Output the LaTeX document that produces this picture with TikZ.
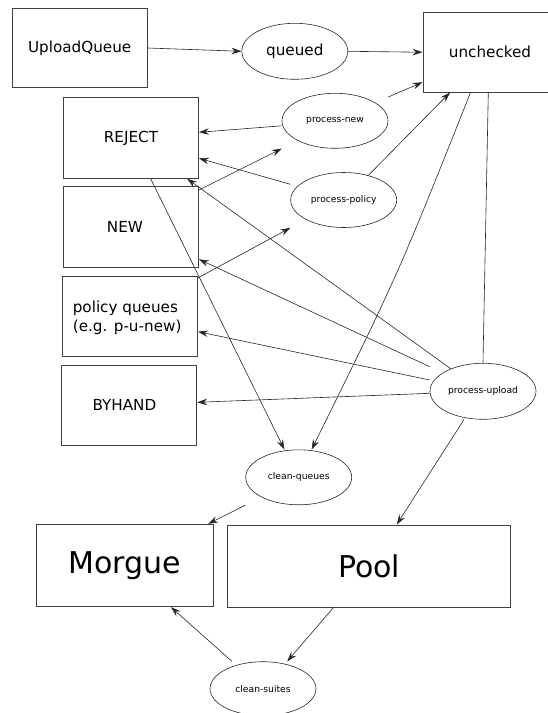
\documentclass[tikz,border=0pt]{standalone}
\usepackage{fontspec}
\setmainfont{DejaVu Sans}
\usetikzlibrary{shapes.geometric,arrows.meta}

\begin{document}
\begin{tikzpicture}[x=1pt,y=-1pt,
  box/.style={draw=black!75, line width=0.9pt, rectangle, inner sep=0pt},
  oval/.style={draw=black!85, line width=0.6pt, ellipse, inner sep=0pt,
    minimum width=106pt, minimum height=55pt, font=\fontsize{9.2}{11}\selectfont},
  midtext/.style={font=\fontsize{15.2}{19}\selectfont},
  largetext/.style={font=\fontsize{30}{36}\selectfont},
  flow/.style={draw=black!85, line width=0.6pt,
    -{Stealth[length=10pt,width=6.5pt,inset=3.5pt]}},
  link/.style={draw=black!85, line width=0.6pt}]

\path[use as bounding box] (0,0) rectangle (547,713);

% queue boxes
\node[box, midtext, minimum width=135pt, minimum height=79.4pt] (upq) at (79.7,48) {UploadQueue};
\node[box, midtext, minimum width=134pt, minimum height=79.7pt] (unchecked) at (490,52.2) {unchecked};
\node[box, midtext, minimum width=135pt, minimum height=80.6pt] (reject) at (131,138) {REJECT};
\node[box, minimum width=135pt, minimum height=81pt] (new) at (131,227.2) {};
\node[midtext] (newtext) at (125,227.2) {NEW};
\node[box, minimum width=134.7pt, minimum height=80pt] (polq) at (130.2,316.7) {};
\node[midtext, align=left, anchor=west] (polqtext) at (69.3,318.3) {policy queues\\(e.g. p-u-new)};
\node[box, minimum width=135pt, minimum height=80.7pt] (byhand) at (129.3,405.3) {};
\node[midtext] (byhandtext) at (124.4,405.3) {BYHAND};
\node[box, largetext, minimum width=177pt, minimum height=82.4pt] (morgue) at (124.8,565.5) {Morgue};
\node[box, largetext, minimum width=283.3pt, minimum height=82.3pt] (pool) at (369.2,566.2) {Pool};

% processes
\node[oval, midtext, minimum height=56pt] (queued) at (294.8,51.3) {queued};
\node[oval] (pnew) at (335,120.8) {process-new};
\node[oval] (ppol) at (343.7,200) {process-policy};
\node[oval, minimum height=56pt] (pup) at (483,391.3) {process-upload};
\node[oval] (cq) at (298.7,477.3) {clean-queues};
\node[oval, minimum height=54pt] (cs) at (263,688.7) {clean-suites};

% top row
\draw[flow] (upq.east) -- (queued.west);
\draw[flow] (queued.east) -- (unchecked.west);

% process-new
\draw[flow] ([yshift=23.8pt]pnew.east) -- ([yshift=10.3pt]unchecked.south west);
\draw[flow] ([yshift=-5pt]pnew.west) -- ([yshift=5.7pt]reject.east);
\draw[flow] ([yshift=-3.8pt]new.north east) -- (pnew.west |- pnew.south);

% process-policy
\draw[flow] ([yshift=15.7pt]ppol.west) -- ([yshift=-20.3pt]reject.east);
\draw[flow] (ppol.45) -- ([xshift=-40pt]unchecked.south);
\draw[flow] ([yshift=-1.6pt]polq.north east) -- (ppol.west |- ppol.south);

% process-upload
\draw[link] ([xshift=-1.7pt]unchecked.south) -- (pup.north);
\draw[flow] (pup.145) -- ([xshift=-11.8pt]reject.south east);
\draw[flow] ([yshift=24.6pt]pup.west) -- ([yshift=-32.1pt]new.east);
\draw[flow] ([yshift=11.3pt]pup.west) -- ([yshift=-15pt]polq.east);
\draw[flow] ([yshift=-2pt]pup.west) -- ([yshift=3pt]byhand.east);
\draw[flow] ([xshift=-19pt]pup.south) -- ([xshift=27.5pt]pool.north);

% clean-queues
\draw[flow] ([xshift=-19.5pt]unchecked.south) .. controls (398,274.7) .. ([xshift=12.9pt]cq.north);
\draw[flow] ([xshift=19.7pt]reject.south) -- ([xshift=-14.3pt]cq.north);
\draw[flow] (cq.west |- cq.south) -- ([xshift=-5.6pt]morgue.north east);

% clean-suites
\draw[flow] ([xshift=-36pt]pool.south) -- ([xshift=24.2pt]cs.north);
\draw[flow] ([xshift=-31pt]cs.north) -- ([xshift=46.2pt]morgue.south);
\end{tikzpicture}
\end{document}
